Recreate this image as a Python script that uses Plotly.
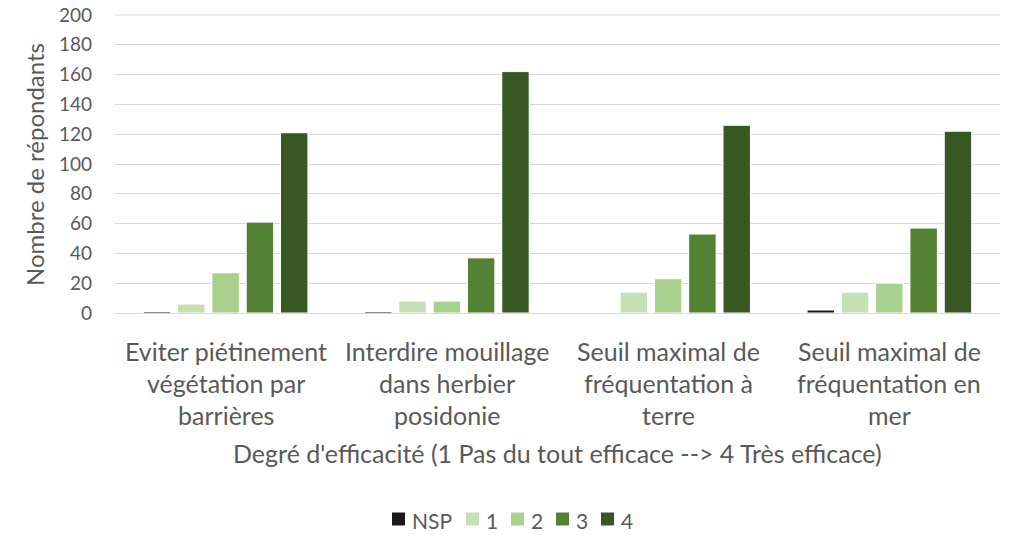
import plotly.graph_objects as go

categories = [
    "Eviter piétinement\nvégétation par\nbarrières",
    "Interdire mouillage\ndans herbier\nposidonie",
    "Seuil maximal de\nfréquentation à\nterre",
    "Seuil maximal de\nfréquentation en\nmer",
]
series_names = ["NSP", "1", "2", "3", "4"]
nsp = [1, 1, 0, 2]
v1 = [6, 8, 14, 14]
v2 = [27, 8, 23, 20]
v3 = [61, 37, 53, 57]
v4 = [121, 162, 126, 122]
series_values = [nsp, v1, v2, v3, v4]
colors = ["#1a1a1a", "#c5e0b4", "#a9d18e", "#548235", "#385723"]
y_max = 200
y_step = 20

FONT = "Lato"
TXT = "#595959"
GRID = "#d9d9d9"
# the page body has an 8px margin, so the figure is drawn 8px in from the window corner
W, H = 1007, 527
ML, MR, MT, MB = 107, 15, 7, 222
PW = W - ML - MR
PH = H - MT - MB


def px_x(fx):
    return (fx - ML) / PW


def px_y(fy):
    return (H - MB - fy) / PH


fig = go.Figure()
for name, vals, col in zip(series_names, series_values, colors):
    fig.add_trace(go.Bar(
        x=categories, y=vals, name=name, showlegend=False,
        marker=dict(color=col, line=dict(color="white", width=1)),
    ))

# top gridline (at the upper end of the axis range)
fig.add_shape(type="line", xref="paper", yref="paper", x0=0, x1=1, y0=1, y1=1,
              line=dict(color=GRID, width=1), layer="below")

# category labels, one annotation per line for Excel-like line spacing
line_px = [343, 375, 407]
for cat in categories:
    for i, line in enumerate(cat.split("\n")):
        fig.add_annotation(
            x=cat, xref="x", y=px_y(line_px[i]), yref="paper",
            text=line, showarrow=False, xanchor="center", yanchor="middle",
            font=dict(family=FONT, size=25, color=TXT),
        )

# x axis title
fig.add_annotation(
    x=0.5, xref="paper", y=px_y(445), yref="paper",
    text="Degré d'efficacité (1 Pas du tout efficace --> 4 Très efficace)",
    showarrow=False, xanchor="center", yanchor="middle",
    font=dict(family=FONT, size=25, color=TXT),
)

# y axis title
fig.add_annotation(
    x=px_x(26), xref="paper", y=px_y(157), yref="paper",
    text="Nombre de répondants", textangle=-90,
    showarrow=False, xanchor="center", yanchor="middle",
    font=dict(family=FONT, size=24, color=TXT),
)

# Excel-style legend: small square then label
legend_sq_x = [384, 458, 503, 548, 593]
sq = 13
leg_y = 511
for name, col, sx in zip(series_names, colors, legend_sq_x):
    fig.add_shape(
        type="rect", xref="paper", yref="paper",
        x0=px_x(sx), x1=px_x(sx + sq), y0=px_y(leg_y + sq / 2), y1=px_y(leg_y - sq / 2),
        fillcolor=col, line=dict(width=0),
    )
    fig.add_annotation(
        x=px_x(sx + sq + 5), xref="paper", y=px_y(leg_y + 1), yref="paper",
        text=name, showarrow=False, xanchor="left", yanchor="middle",
        font=dict(family=FONT, size=21, color=TXT),
    )

fig.update_layout(
    width=W, height=H,
    margin=dict(l=ML, r=MR, t=MT, b=MB, autoexpand=False),
    plot_bgcolor="white", paper_bgcolor="white",
    barmode="group", bargap=0.225, bargroupgap=0.2,
    font=dict(family=FONT, color=TXT, size=18),
    showlegend=False,
    xaxis=dict(
        showgrid=False, showline=True, linecolor=GRID, linewidth=1,
        ticks="", showticklabels=False, automargin=False,
    ),
    yaxis=dict(
        range=[0, y_max], tick0=0, dtick=y_step, showgrid=True, gridcolor=GRID, gridwidth=1,
        zeroline=False, showline=False, ticks="", automargin=False,
        tickfont=dict(size=19, color=TXT), ticklabelstandoff=22,
        ticklabeloverflow="allow",
    ),
)

fig.write_html("out.html")
